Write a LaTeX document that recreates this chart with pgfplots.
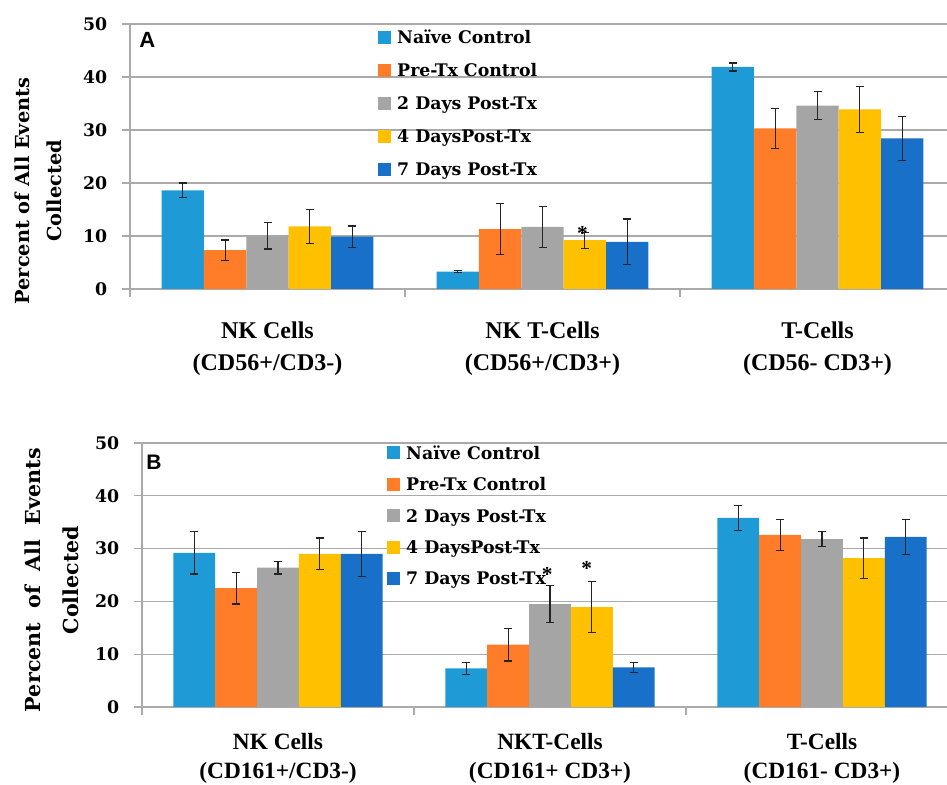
\documentclass[border=0pt]{standalone}
\usepackage{pgfplots}
\pgfplotsset{compat=1.18}
\usepackage{fontspec}
\setmainfont{Liberation Serif}
\newfontfamily\dvs{DejaVu Serif}
\newfontfamily\lsans{Liberation Sans}
\definecolor{cNaive}{RGB}{30,155,215}
\definecolor{cPre}{RGB}{255,125,40}
\definecolor{cTwo}{RGB}{165,165,165}
\definecolor{cFour}{RGB}{255,192,0}
\definecolor{cSeven}{RGB}{24,112,200}
\definecolor{cGrid}{RGB}{170,170,170}
\definecolor{cErr}{RGB}{35,35,35}
\pgfplotsset{
  panel/.style={
    scale only axis, ybar, ymin=0, ymax=50, xmin=-0.5,
    bar width=0.154,
    ytick={0,10,20,30,40,50},
    ymajorgrids, grid style={cGrid, line width=0.9pt},
    axis x line*=bottom, axis y line*=left,
    axis line style={cGrid, line width=0.9pt, -},
    tick style={cGrid, line width=0.9pt},
    tick align=outside, major tick length=6pt,
    xtick={-0.5,0.5,1.5}, xticklabels={},
    extra x tick style={major tick length=0pt},
    xticklabel style={align=center, text=black},
    yticklabel style={font=\dvs\bfseries\fontsize{13}{15}\selectfont, /pgf/number format/assume math mode=true, xshift=-7.5pt, text=black},
    legend image code/.code={\fill[##1] (0pt,-4.875pt) rectangle (9.75pt,4.875pt);},
    legend cell align=left,
    legend style={draw=none, fill=none, inner sep=0pt, anchor=north west,
      font=\dvs\bfseries\fontsize{13}{15}\selectfont, column sep=4.5pt,
      nodes={inner sep=0pt, text height=11pt, text depth=1.5pt}},
    legend entries={Naïve Control, Pre-Tx Control, 2 Days Post-Tx, 4 DaysPost-Tx, 7 Days Post-Tx},
  },
  ebar/.style={error bars/.cd, y dir=both, y explicit,
    error bar style={cErr, line width=0.9pt},
    error mark options={rotate=90, cErr, line width=0.9pt, mark size=3pt}},
}
\begin{document}
\begin{tikzpicture}
\path[use as bounding box] (0,0) rectangle (710.25pt,588.75pt);
% ---------------- Panel A ----------------
\begin{axis}[panel, at={(97.5pt,372pt)}, anchor=south west,
  width=612.75pt, height=198.75pt, xmax=2.4709,
  extra x ticks={0,1,2},
  extra x tick labels={{NK Cells\\(CD56+/CD3-)},{NK T-Cells\\(CD56+/CD3+)},{T-Cells\\(CD56- CD3+)}},
  xticklabel style={yshift=-21pt, font=\bfseries\fontsize{18}{24}\selectfont},
  legend style={at={(axis description cs:0.3035,0.9823)}, row sep=12.25pt},
]
\addplot[fill=cNaive, draw=none, bar shift=-0.308, ebar] coordinates {(0,18.6) +- (0,1.4) (1,3.3) +- (0,0.15) (2,41.9) +- (0,0.75)};
\addplot[fill=cPre, draw=none, bar shift=-0.154, ebar] coordinates {(0,7.35) +- (0,1.9) (1,11.3) +- (0,4.85) (2,30.3) +- (0,3.8)};
\addplot[fill=cTwo, draw=none, bar shift=0, ebar] coordinates {(0,10.05) +- (0,2.5) (1,11.7) +- (0,3.8) (2,34.6) +- (0,2.6)};
\addplot[fill=cFour, draw=none, bar shift=0.154, ebar] coordinates {(0,11.8) +- (0,3.2) (1,9.2) +- (0,1.5) (2,33.9) +- (0,4.3)};
\addplot[fill=cSeven, draw=none, bar shift=0.308, ebar] coordinates {(0,9.9) +- (0,2.0) (1,8.9) +- (0,4.3) (2,28.4) +- (0,4.2)};
\node[font=\bfseries\fontsize{16}{16}\selectfont, inner sep=0pt] at (axis cs:1.145,10.4) {*};
\end{axis}
\node[font=\lsans\bfseries\fontsize{16.5}{18}\selectfont, anchor=base west, inner sep=0pt] at (104.25pt,552.75pt) {A};
\node[rotate=90, align=center, font=\dvs\bfseries\fontsize{14.5}{24}\selectfont] at (28.5pt,445.5pt) {Percent of All Events\\Collected};
% ---------------- Panel B ----------------
\begin{axis}[panel, at={(106.5pt,58.5pt)}, anchor=south west,
  width=603.75pt, height=198pt, xmax=2.4596,
  extra x ticks={0,1,2},
  extra x tick labels={{NK Cells\\(CD161+/CD3-)},{NKT-Cells\\(CD161+ CD3+)},{T-Cells\\(CD161- CD3+)}},
  xticklabel style={yshift=-16pt, font=\bfseries\fontsize{17.5}{21.75}\selectfont},
  legend style={at={(axis description cs:0.3043,0.9955)}, row sep=11.1pt},
]
\addplot[fill=cNaive, draw=none, bar shift=-0.308, ebar] coordinates {(0,29.2) +- (0,4.0) (1,7.3) +- (0,1.1) (2,35.8) +- (0,2.3)};
\addplot[fill=cPre, draw=none, bar shift=-0.154, ebar] coordinates {(0,22.5) +- (0,3.0) (1,11.8) +- (0,3.1) (2,32.6) +- (0,2.9)};
\addplot[fill=cTwo, draw=none, bar shift=0, ebar] coordinates {(0,26.4) +- (0,1.2) (1,19.5) +- (0,3.5) (2,31.8) +- (0,1.4)};
\addplot[fill=cFour, draw=none, bar shift=0.154, ebar] coordinates {(0,29.0) +- (0,3.0) (1,18.9) +- (0,4.8) (2,28.2) +- (0,3.8)};
\addplot[fill=cSeven, draw=none, bar shift=0.308, ebar] coordinates {(0,29.0) +- (0,4.3) (1,7.5) +- (0,0.95) (2,32.2) +- (0,3.3)};
\node[font=\bfseries\fontsize{16}{16}\selectfont, inner sep=0pt] at (axis cs:0.99,25.1) {*};
\node[font=\bfseries\fontsize{16}{16}\selectfont, inner sep=0pt] at (axis cs:1.135,26.2) {*};
\end{axis}
\node[font=\lsans\bfseries\fontsize{15.75}{18}\selectfont, anchor=base west, inner sep=0pt] at (109.5pt,236.25pt) {B};
\node[rotate=90, align=center, font=\dvs\bfseries\fontsize{15.5}{28.5}\selectfont] at (39pt,153.75pt) {Percent \ of \ All \ Events\\Collected};
\end{tikzpicture}
\end{document}
